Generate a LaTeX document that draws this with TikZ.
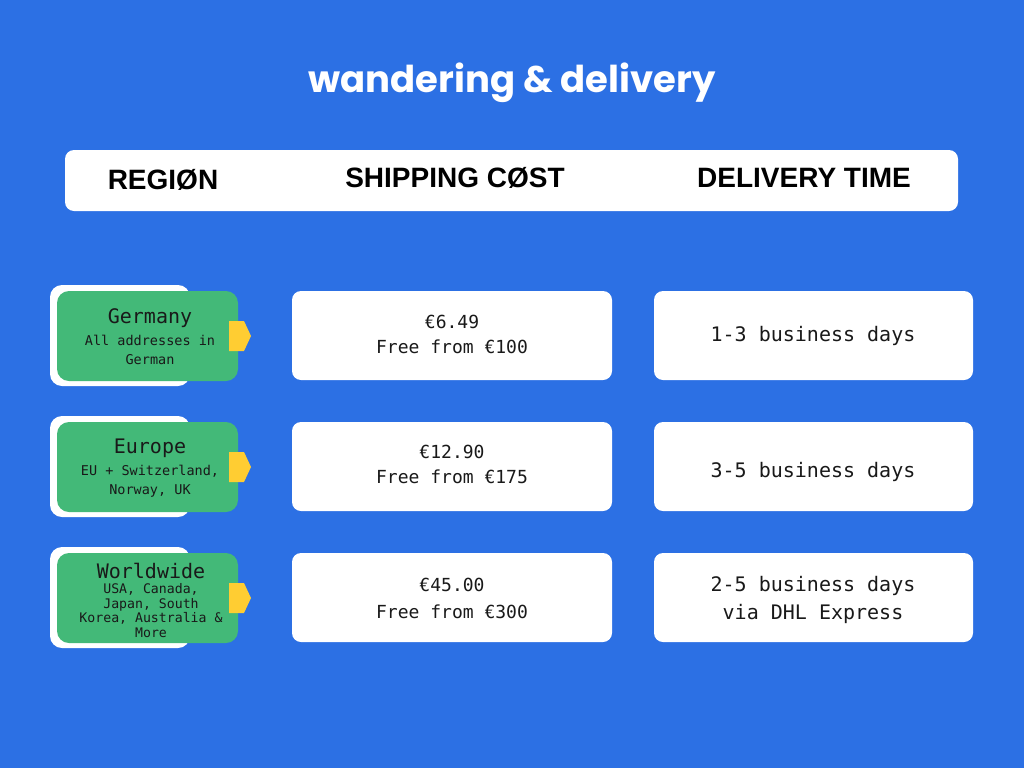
\documentclass[tikz,border=0pt]{standalone}
\usepackage{fontspec}
\setmainfont{Liberation Sans}
\newfontfamily\titlefont{Poppins}
\newfontfamily\headfont{Liberation Sans}
\newfontfamily\monofont{DejaVu Sans Mono}
\definecolor{bgblue}{RGB}{44,112,228}
\definecolor{tgreen}{RGB}{67,185,120}
\definecolor{tyellow}{RGB}{255,205,50}
\definecolor{txt}{RGB}{25,25,25}
\tikzset{
  whitebox/.style={fill=white, draw=none, rounded corners=9pt},
  backbox/.style={fill=white, draw=none, rounded corners=12pt},
  greenbox/.style={fill=tgreen, draw=none, rounded corners=12pt},
  tab/.style={fill=tyellow, draw=none},
  head/.style={font=\headfont\bfseries\fontsize{28}{30}\selectfont, text=black},
  regiontxt/.style={align=center, text=txt, inner sep=0pt},
  celltxt/.style={align=center, text=txt, inner sep=0pt},
}
\begin{document}
\begin{tikzpicture}[x=1pt,y=-1pt]
\fill[bgblue] (0,0) rectangle (1024,768);
\useasboundingbox (0,0) rectangle (1024,768);

% title
\node[text=white, font=\titlefont\bfseries\fontsize{37}{42}\selectfont] (title) at (512,83) {wandering \& delivery};

% header
\fill[whitebox] (65,150) rectangle (958,211);
\node[head] (hreg) at (163,180) {REGIØN};
\node[head] (hcost) at (455,178) {SHIPPING CØST};
\node[head] (htime) at (804,178) {DELIVERY TIME};

% rows
\foreach \dy/\nm in {0/r1,131/r2,262/r3}{
  \begin{scope}[yshift=-\dy pt]
    \fill[backbox] (50,285) rectangle (190,386);
    \fill[greenbox] (57,291) rectangle (238,381);
    \fill[tab] (229,321) -- (244,321) -- (251,336) -- (244,351) -- (229,351) -- cycle;
    \fill[whitebox] (292,291) rectangle (612,380);
    \fill[whitebox] (654,291) rectangle (973,380);
  \end{scope}
}

% region texts
\node[regiontxt, font=\monofont\fontsize{13.5}{19}\selectfont] (g1) at (150,337)
  {{\fontsize{20}{22}\selectfont Germany}\\[3pt]All addresses in\\German};
\node[regiontxt, font=\monofont\fontsize{13.5}{19}\selectfont] (g2) at (150,468)
  {{\fontsize{20}{22}\selectfont Europe}\\[3pt]EU + Switzerland,\\Norway, UK};
\node[regiontxt, font=\monofont\fontsize{13.2}{14.5}\selectfont] (g3) at (151,600)
  {{\fontsize{20}{22}\selectfont Worldwide}\\[1pt]USA, Canada,\\Japan, South\\Korea, Australia \&\\More};

% cost texts
\node[celltxt, font=\monofont\fontsize{18}{25}\selectfont] (c1) at (452,334) {€6.49\\Free from €100};
\node[celltxt, font=\monofont\fontsize{18}{25}\selectfont] (c2) at (452,464) {€12.90\\Free from €175};
\node[celltxt, font=\monofont\fontsize{18}{27}\selectfont] (c3) at (452,598) {€45.00\\Free from €300};

% delivery texts
\node[celltxt, font=\monofont\fontsize{20}{28}\selectfont] (d1) at (813,336) {1-3 business days};
\node[celltxt, font=\monofont\fontsize{20}{28}\selectfont] (d2) at (813,472) {3-5 business days};
\node[celltxt, font=\monofont\fontsize{20}{28}\selectfont] (d3) at (813,600) {2-5 business days\\via DHL Express};
\end{tikzpicture}
\end{document}
